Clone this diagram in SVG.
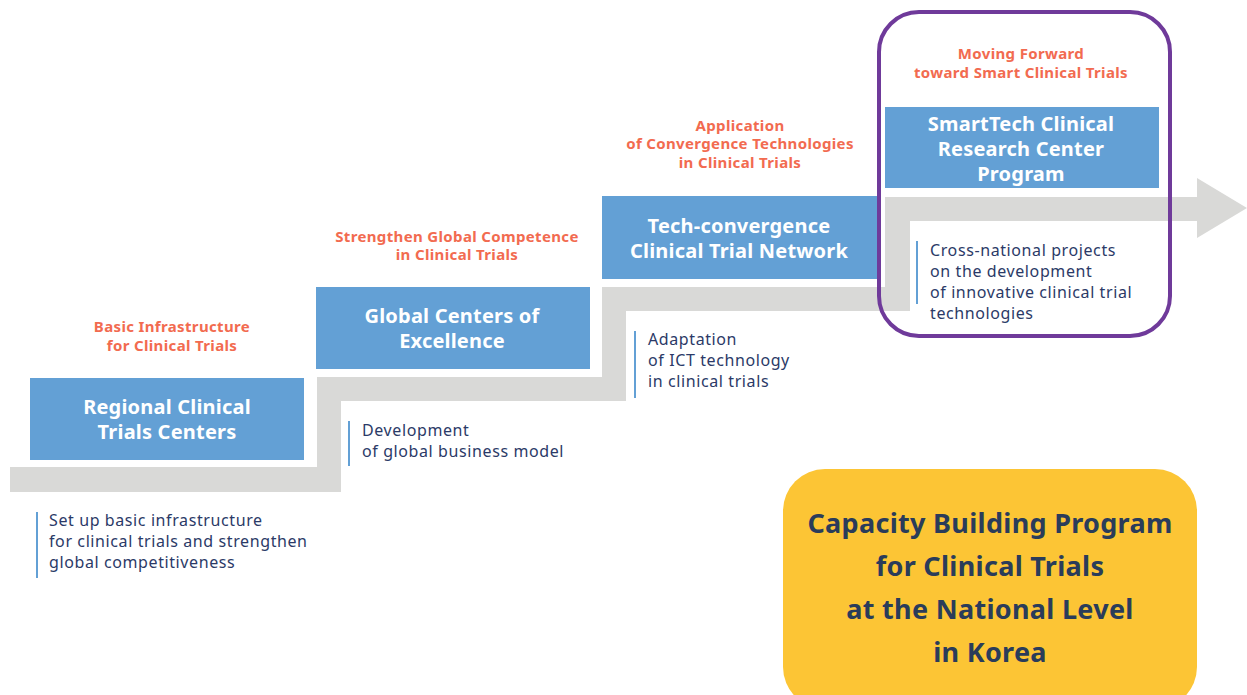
<svg xmlns="http://www.w3.org/2000/svg" width="1247" height="695" viewBox="0 0 1247 695">
<style>
.box{fill:#63a0d5}
.bt{fill:#ffffff;font-family:"Noto Sans","Liberation Sans",sans-serif;font-weight:bold;font-size:20px;text-anchor:middle;letter-spacing:0.2px}
.rl{fill:#f26b50;font-family:"Noto Sans","Liberation Sans",sans-serif;font-weight:bold;font-size:15px;text-anchor:middle;letter-spacing:0.35px}
.dt{fill:#2b3a67;font-family:"Noto Sans","Liberation Sans",sans-serif;font-size:16px;letter-spacing:0.6px}
.bar{stroke:#63a0d5;stroke-width:2}
.yt{fill:#2a3c5a;font-family:"Noto Sans","Liberation Sans",sans-serif;font-weight:bold;font-size:27px;text-anchor:middle;letter-spacing:0.3px}
</style>
<rect width="1247" height="695" fill="#ffffff"/>
<g id="connectors">
<path d="M10,467 H317 V377 H602 V287 H885 V197 H1197 V178 L1247,208 L1197,238 V221 H910 V311 H626 V401 H341 V492 H10 Z" fill="#d9d9d7"/>
</g>
<g id="node-regional">
<text class="rl" x="172" y="332">Basic Infrastructure</text>
<text class="rl" x="172" y="351">for Clinical Trials</text>
<rect class="box" x="30" y="378" width="274" height="82"/>
<text class="bt" x="167" y="414">Regional Clinical</text>
<text class="bt" x="167" y="439">Trials Centers</text>
<line class="bar" x1="37" y1="512" x2="37" y2="578"/>
<text class="dt" x="49" y="526">Set up basic infrastructure</text>
<text class="dt" x="49" y="547">for clinical trials and strengthen</text>
<text class="dt" x="49" y="568">global competitiveness</text>
</g>
<g id="node-global">
<text class="rl" x="457" y="242">Strengthen Global Competence</text>
<text class="rl" x="457" y="260">in Clinical Trials</text>
<rect class="box" x="316" y="287" width="274" height="82"/>
<text class="bt" x="452" y="323">Global Centers of</text>
<text class="bt" x="452" y="348">Excellence</text>
<line class="bar" x1="349" y1="421" x2="349" y2="466"/>
<text class="dt" x="362" y="436">Development</text>
<text class="dt" x="362" y="457">of global business model</text>
</g>
<g id="node-tech">
<text class="rl" x="740" y="131">Application</text>
<text class="rl" x="740" y="149">of Convergence Technologies</text>
<text class="rl" x="740" y="168">in Clinical Trials</text>
<rect class="box" x="602" y="196" width="277" height="83"/>
<text class="bt" x="739" y="233">Tech-convergence</text>
<text class="bt" x="739" y="258">Clinical Trial Network</text>
<line class="bar" x1="635" y1="331" x2="635" y2="398"/>
<text class="dt" x="648" y="345">Adaptation</text>
<text class="dt" x="648" y="366">of ICT technology</text>
<text class="dt" x="648" y="387">in clinical trials</text>
</g>
<g id="node-smarttech">
<text class="rl" x="1021" y="59">Moving Forward</text>
<text class="rl" x="1021" y="78">toward Smart Clinical Trials</text>
<rect class="box" x="885" y="107" width="274" height="81"/>
<text class="bt" x="1021" y="131">SmartTech Clinical</text>
<text class="bt" x="1021" y="156">Research Center</text>
<text class="bt" x="1021" y="181">Program</text>
<line class="bar" x1="917" y1="241" x2="917" y2="304"/>
<text class="dt" x="930" y="256">Cross-national projects</text>
<text class="dt" x="930" y="277">on the development</text>
<text class="dt" x="930" y="298">of innovative clinical trial</text>
<text class="dt" x="930" y="319">technologies</text>
<rect x="879" y="12" width="291" height="324" rx="40" ry="40" fill="none" stroke="#6f3a9a" stroke-width="4"/>
</g>
<g id="node-capacity">
<rect x="783" y="469" width="414" height="240" rx="42" ry="42" fill="#fcc535"/>
<text class="yt" x="990" y="533">Capacity Building Program</text>
<text class="yt" x="990" y="576">for Clinical Trials</text>
<text class="yt" x="990" y="619">at the National Level</text>
<text class="yt" x="990" y="662">in Korea</text>
</g>
</svg>
